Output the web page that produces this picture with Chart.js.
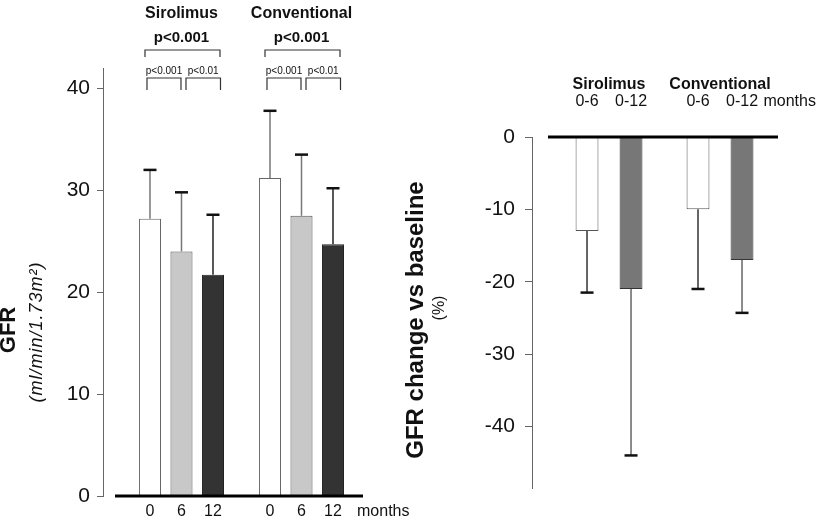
<!DOCTYPE html>
<html>
<head>
<meta charset="utf-8">
<script src="https://cdn.jsdelivr.net/npm/chart.js@4.4.0/dist/chart.umd.min.js"></script>
<style>
  html, body { margin: 0; padding: 0; background: #fff; }
  #wrap { position: relative; width: 825px; height: 522px; }
  #gfrBox { position: absolute; left: 0; top: 0; width: 420px; height: 522px; }
  #changeBox { position: absolute; left: 395px; top: 0; width: 430px; height: 522px; }
</style>
</head>
<body>
<div id="wrap">
  <div id="gfrBox"><canvas id="gfrChart"></canvas></div>
  <div id="changeBox"><canvas id="changeChart"></canvas></div>
</div>
<script>
// groups
const groups = ['Sirolimus', 'Conventional'];

// left panel: GFR (ml/min/1.73m2) at 0, 6, 12 months, mean and SD per group
const gfrMonths = ['0', '6', '12'];
const gfrMonth0 = [27.2, 31.2];
const gfrMonth6 = [24.0, 27.5];
const gfrMonth12 = [21.7, 24.7];
const gfrSd0 = [4.8, 6.6];
const gfrSd6 = [5.8, 6.0];
const gfrSd12 = [5.9, 5.5];
const pOverall = ['p<0.001', 'p<0.001'];
const p0to6 = ['p<0.001', 'p<0.001'];
const p6to12 = ['p<0.01', 'p<0.01'];
const gfrTicks = [0, 10, 20, 30, 40];

// right panel: GFR change vs baseline (%)
const changePeriods = ['0-6', '0-12'];
const change0to6 = [-13, -10];
const change0to12 = [-21, -17];
const changeSd0to6 = [8.5, 11];
const changeSd0to12 = [23, 7.3];
const changeTicks = [0, -10, -20, -30, -40];

const SANS = "'Liberation Sans', Arial, sans-serif";
Chart.defaults.font.family = SANS;
Chart.defaults.color = '#111';

function vText(ctx, text, x, y, font, spacing) {
    ctx.save();
    ctx.translate(x, y);
    ctx.rotate(-Math.PI / 2);
    ctx.font = font;
    if (spacing) ctx.letterSpacing = spacing;
    ctx.textAlign = 'center';
    ctx.textBaseline = 'middle';
    ctx.fillStyle = '#111';
    ctx.fillText(text, 0, 0);
    ctx.restore();
}

// error bars (one direction) from dataset.sd
const errorBars = {
    id: 'errorBars',
    afterDatasetsDraw(chart, args, opts) {
        const ctx = chart.ctx;
        const yScale = chart.scales.y;
        chart.data.datasets.forEach((ds, i) => {
            chart.getDatasetMeta(i).data.forEach((bar, j) => {
                const end = yScale.getPixelForValue(ds.data[j].y + opts.direction * ds.sd[j]);
                ctx.save();
                ctx.strokeStyle = ds.errorColor;
                ctx.lineWidth = 1.5;
                ctx.beginPath();
                ctx.moveTo(bar.x, bar.y);
                ctx.lineTo(bar.x, end);
                ctx.stroke();
                ctx.strokeStyle = '#111';
                ctx.lineWidth = 2.5;
                ctx.beginPath();
                ctx.moveTo(bar.x - 6.5, end);
                ctx.lineTo(bar.x + 6.5, end);
                ctx.stroke();
                ctx.restore();
            });
        });
    }
};

// thick zero line
const zeroLine = {
    id: 'zeroLine',
    afterDatasetsDraw(chart, args, opts) {
        const ctx = chart.ctx;
        const x = chart.scales.x, y = chart.scales.y;
        const py = y.getPixelForValue(0);
        ctx.save();
        ctx.strokeStyle = '#000';
        ctx.lineWidth = 3;
        ctx.beginPath();
        ctx.moveTo(x.getPixelForValue(opts.from), py);
        ctx.lineTo(x.getPixelForValue(x.max), py);
        ctx.stroke();
        ctx.restore();
    }
};

function bracket(ctx, x1, x2, top, bottom) {
    ctx.beginPath();
    ctx.moveTo(x1, bottom);
    ctx.lineTo(x1, top);
    ctx.lineTo(x2, top);
    ctx.lineTo(x2, bottom);
    ctx.stroke();
}

const gfrNotes = {
    id: 'gfrNotes',
    afterDraw(chart) {
        const ctx = chart.ctx;
        const area = chart.chartArea;
        const bar = (d, g) => chart.getDatasetMeta(d).data[g];
        ctx.save();
        ctx.fillStyle = '#111';
        ctx.textBaseline = 'middle';
        ctx.textAlign = 'center';
        ctx.font = '16px ' + SANS;
        gfrMonths.forEach((m, d) => {
            chart.getDatasetMeta(d).data.forEach(b => ctx.fillText(m, b.x, area.bottom + 16));
        });
        ctx.textAlign = 'left';
        ctx.fillText('months', area.right - 6, area.bottom + 16);

        ctx.strokeStyle = '#333';
        ctx.lineWidth = 1.2;
        groups.forEach((g, gi) => {
            const b0 = bar(0, gi), b1 = bar(1, gi), b2 = bar(2, gi);
            ctx.textAlign = 'center';
            ctx.font = 'bold 15px ' + SANS;
            ctx.fillText(pOverall[gi], b1.x, 38);
            bracket(ctx, b0.x - 5, b2.x + 7, 50, 57);
            ctx.font = '10px ' + SANS;
            const l1 = b0.x - 3, r1 = b1.x - 0.5, l2 = b1.x + 4.5, r2 = b2.x + 7.5;
            ctx.fillText(p0to6[gi], (l1 + r1) / 2, 71);
            ctx.fillText(p6to12[gi], (l2 + r2) / 2, 71);
            bracket(ctx, l1, r1, 78, 90);
            bracket(ctx, l2, r2, 78, 90);
        });
        ctx.restore();
        vText(ctx, 'GFR', 9, 330, 'bold 22px ' + SANS);
        vText(ctx, '(ml/min/1.73m\u00b2)', 37, 332, 'italic 18px ' + SANS, '1px');
    }
};

const changeNotes = {
    id: 'changeNotes',
    afterDraw(chart) {
        const ctx = chart.ctx;
        const area = chart.chartArea;
        ctx.save();
        ctx.fillStyle = '#111';
        ctx.textBaseline = 'middle';
        ctx.textAlign = 'center';
        ctx.font = '16px ' + SANS;
        let last = null;
        changePeriods.forEach((p, d) => {
            chart.getDatasetMeta(d).data.forEach(b => { ctx.fillText(p, b.x, area.top - 35); last = b; });
        });
        ctx.textAlign = 'left';
        ctx.fillText('months', last.x + last.width / 2 + 10, area.top - 35);
        ctx.restore();
        vText(ctx, 'GFR change vs baseline', 21, 320, 'bold 24px ' + SANS);
        vText(ctx, '(%)', 45, 308, '16px ' + SANS);
    }
};

const toPoints = arr => arr.map((v, g) => ({ x: g, y: v }));
const groupTick = v => (groups[v] !== undefined ? groups[v] : '');

// left chart
const gfrMeans = [gfrMonth0, gfrMonth6, gfrMonth12];
const gfrSds = [gfrSd0, gfrSd6, gfrSd12];
const gfrFill = ['#ffffff', '#c8c8c8', '#333333'];
const gfrEdge = ['#666666', '#555555', '#222222'];
const gfrErr = ['#777777', '#777777', '#222222'];

new Chart(document.getElementById('gfrChart'), {
    type: 'bar',
    data: {
        datasets: gfrMonths.map((m, i) => ({
            label: m + ' months',
            data: toPoints(gfrMeans[i]),
            sd: gfrSds[i],
            errorColor: gfrErr[i],
            backgroundColor: gfrFill[i],
            borderColor: gfrEdge[i],
            borderWidth: 1,
            categoryPercentage: 0.7875,
            barPercentage: 0.70
        }))
    },
    options: {
        responsive: true,
        maintainAspectRatio: false,
        animation: false,
        layout: { padding: { left: 0, right: 57, top: 0, bottom: 26 } },
        plugins: {
            legend: { display: false },
            tooltip: { enabled: false },
            errorBars: { direction: 1 },
            zeroLine: { from: -0.554 }
        },
        scales: {
            x: {
                type: 'linear', position: 'top', min: -0.654, max: 1.5125, offset: false,
                grid: { display: false, drawTicks: false, offset: false },
                border: { display: false },
                ticks: {
                    stepSize: 1, includeBounds: false, autoSkip: false, maxRotation: 0, padding: 45,
                    font: { size: 16, weight: 'bold' },
                    callback: groupTick
                },
                afterFit: s => { s.height = 68; }
            },
            y: {
                min: 0, max: 42,
                grid: { drawOnChartArea: false, tickLength: 6, color: '#666' },
                border: { color: '#666', width: 1 },
                ticks: { stepSize: 10, includeBounds: false, padding: 7, font: { size: 21 } },
                afterBuildTicks: s => { s.ticks = gfrTicks.map(v => ({ value: v })); },
                afterFit: s => { s.width = 103; }
            }
        }
    },
    plugins: [errorBars, zeroLine, gfrNotes]
});

// right chart
const changeMeans = [change0to6, change0to12];
const changeSds = [changeSd0to6, changeSd0to12];
const changeFill = ['#ffffff', '#777777'];
const changeEdge = ['#555555', '#333333'];
const changeErr = ['#333333', '#666666'];

new Chart(document.getElementById('changeChart'), {
    type: 'bar',
    data: {
        datasets: changePeriods.map((p, i) => ({
            label: p + ' months',
            data: toPoints(changeMeans[i]),
            sd: changeSds[i],
            errorColor: changeErr[i],
            backgroundColor: changeFill[i],
            borderColor: changeEdge[i],
            borderWidth: 1,
            categoryPercentage: 0.793,
            barPercentage: 0.52
        }))
    },
    options: {
        responsive: true,
        maintainAspectRatio: false,
        animation: false,
        layout: { padding: { left: 0, right: 47, top: 0, bottom: 34 } },
        plugins: {
            legend: { display: false },
            tooltip: { enabled: false },
            errorBars: { direction: -1 },
            zeroLine: { from: -0.55 }
        },
        scales: {
            x: {
                type: 'linear', position: 'top', min: -0.694, max: 1.5225, offset: false,
                grid: { display: false, drawTicks: false, offset: false },
                border: { display: false },
                ticks: {
                    stepSize: 1, includeBounds: false, autoSkip: false, maxRotation: 0, padding: 43,
                    font: { size: 16, weight: 'bold' },
                    callback: groupTick
                },
                afterFit: s => { s.height = 137; }
            },
            y: {
                min: -48.5, max: 0,
                grid: { drawOnChartArea: false, tickLength: 7, color: '#666' },
                border: { color: '#666', width: 1 },
                ticks: { stepSize: 10, includeBounds: false, padding: 10, font: { size: 21 } },
                afterBuildTicks: s => { s.ticks = changeTicks.map(v => ({ value: v })); },
                afterFit: s => { s.width = 137; }
            }
        }
    },
    plugins: [errorBars, zeroLine, changeNotes]
});
</script>
</body>
</html>
